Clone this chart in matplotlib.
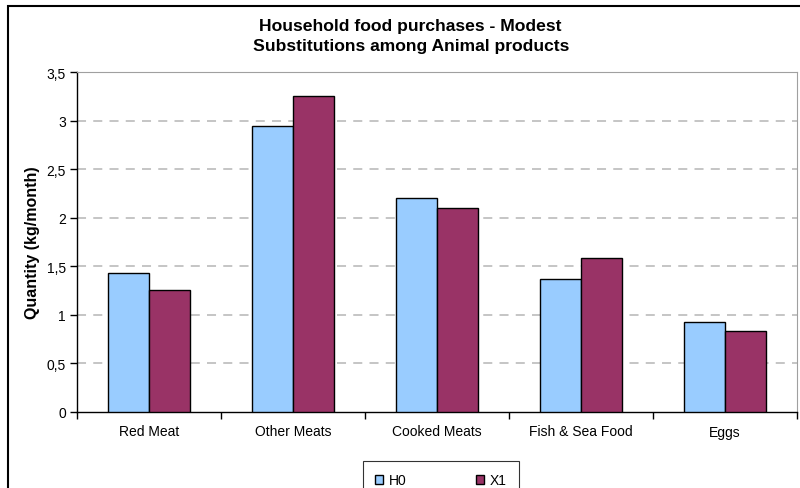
import numpy as np
import matplotlib.pyplot as plt
from matplotlib.patches import Rectangle

plt.rcParams['font.family'] = ['Liberation Sans', 'DejaVu Sans']

# data
categories = ['Red Meat', 'Other Meats', 'Cooked Meats', 'Fish & Sea Food', 'Eggs']
h0 = [1.43, 2.94, 2.20, 1.37, 0.93]
x1 = [1.26, 3.25, 2.10, 1.59, 0.83]
series_names = ['H0', 'X1']
yticks = [0, 0.5, 1, 1.5, 2, 2.5, 3, 3.5]

fig = plt.figure(figsize=(8, 4.89), dpi=100)
ax = fig.add_axes([77 / 800, 1 - 413 / 489, 720 / 800, 340 / 489])

x = np.arange(len(categories))
w = 0.287
ax.bar(x - w / 2, h0, w, color='#99CCFF', edgecolor='black', linewidth=1, label=series_names[0], zorder=3)
ax.bar(x + w / 2, x1, w, color='#993366', edgecolor='black', linewidth=1, label=series_names[1], zorder=3)

ax.set_xlim(-0.5, len(categories) - 0.5)
ax.set_ylim(0, 3.5)

# y axis with comma decimals
ax.set_yticks(yticks)
ax.set_yticklabels([('%g' % v).replace('.', ',') for v in yticks], fontsize=10)
ax.yaxis.grid(True, color='#C0C0C0', linestyle=(0, (5, 4)), linewidth=1.3, zorder=0)
ax.get_ygridlines()[0].set_visible(False)

# x ticks at category boundaries, labels at centres
ax.set_xticks(np.arange(-0.5, len(categories), 1))
ax.set_xticklabels([])
ax.set_xticks(x, minor=True)
ax.set_xticklabels(categories, minor=True, fontsize=10)
ax.tick_params(axis='x', which='minor', length=0, pad=9)
ax.tick_params(axis='x', which='major', length=5, width=1)
ax.tick_params(axis='y', length=5, width=1, pad=3)

for s in ['top', 'right']:
    ax.spines[s].set_color('#A0A0A0')
ax.spines['left'].set_linewidth(1)
ax.spines['bottom'].set_linewidth(1)

ax.set_ylabel('Quantity (kg/month)', fontsize=11.5, fontweight='bold', labelpad=5)

fig.text(410 / 800, 1 - 26 / 489, 'Household food purchases - Modest', ha='center', va='center',
         fontsize=12.6, fontweight='bold')
fig.text(411 / 800, 1 - 47 / 489, 'Substitutions among Animal products', ha='center', va='center',
         fontsize=12.6, fontweight='bold')

leg = ax.legend(loc='upper center', bbox_to_anchor=(441 / 800, 1 - 462 / 489),
                bbox_transform=fig.transFigure, borderaxespad=0, ncol=2, frameon=True,
                fancybox=False, edgecolor='black', fontsize=10, handlelength=0.6,
                handleheight=0.6, columnspacing=5.0, handletextpad=0.4, borderpad=0.9)
leg.get_frame().set_linewidth(0.8)

# outer chart frame
fig.patches.append(Rectangle((8 / 800, -0.1), 1.0, 1 - 7 / 489 + 0.1, transform=fig.transFigure,
                             fill=False, edgecolor='black', linewidth=1.5))

fig.savefig('out.png', dpi=100)
